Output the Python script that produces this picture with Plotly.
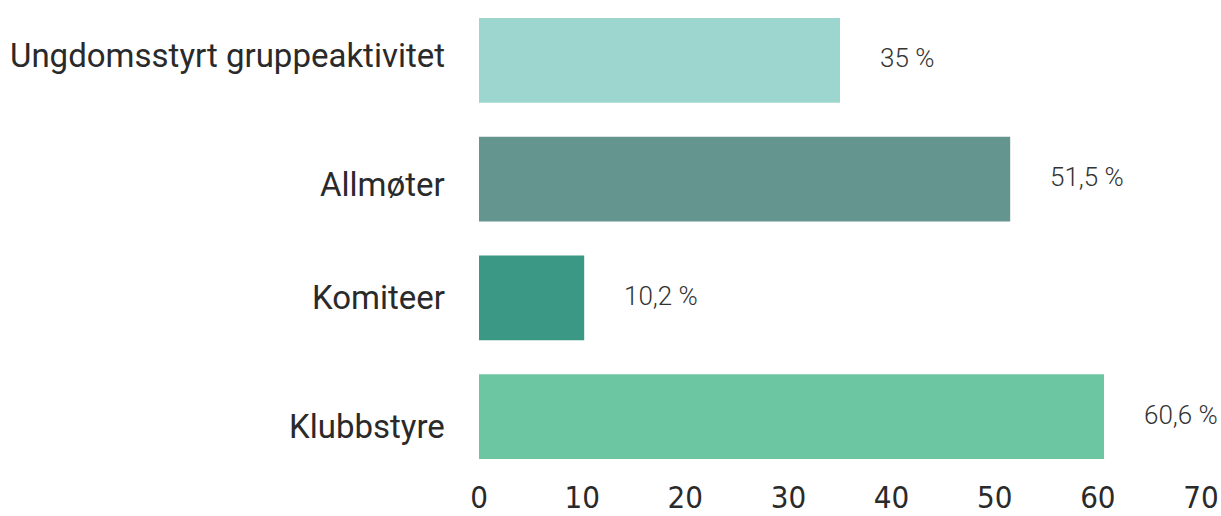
import plotly.graph_objects as go

# Share of activity types (percent)
categories = ["Klubbstyre", "Komiteer", "Allmøter", "Ungdomsstyrt gruppeaktivitet"]
values = [60.6, 10.2, 51.5, 35.0]
value_labels = ["60,6 %", "10,2 %", "51,5 %", "35 %"]
bar_colors = ["#6cc6a1", "#3a9885", "#65958f", "#9dd6cf"]
x_ticks = [0, 10, 20, 30, 40, 50, 60, 70]

# small vertical nudges (px) for the category names
name_nudge = [-10, 0, -5, 5]

fig = go.Figure(
    go.Bar(
        x=values,
        y=categories,
        orientation="h",
        marker=dict(color=bar_colors, line=dict(width=0)),
        hoverinfo="skip",
    )
)

for cat, val, lab, dy in zip(categories, values, value_labels, name_nudge):
    # value label to the right of the bar
    fig.add_annotation(
        x=val, y=cat, text=lab, showarrow=False,
        xanchor="left", xshift=38, yshift=2,
        font=dict(family="Roboto", size=26, color="#333333", weight=300),
    )
    # category name left of the axis
    fig.add_annotation(
        xref="paper", x=0, y=cat, text=cat, showarrow=False,
        xanchor="right", xshift=-32, yshift=dy,
        font=dict(family="Roboto", size=33, color="#2a2a2a"),
    )

fig.update_layout(
    width=1221, height=516,
    margin=dict(l=479, r=20, t=1, b=36),
    paper_bgcolor="white", plot_bgcolor="white",
    bargap=0.286,
    showlegend=False,
    xaxis=dict(
        range=[0, 70], tickvals=x_ticks, showgrid=False, zeroline=False,
        showline=False, ticks="",
        tickfont=dict(family="DejaVu Sans Condensed", size=31, color="#2a2a2a"),
    ),
    yaxis=dict(
        showgrid=False, zeroline=False, showline=False, ticks="",
        showticklabels=False,
    ),
)

fig.write_html("out.html")
